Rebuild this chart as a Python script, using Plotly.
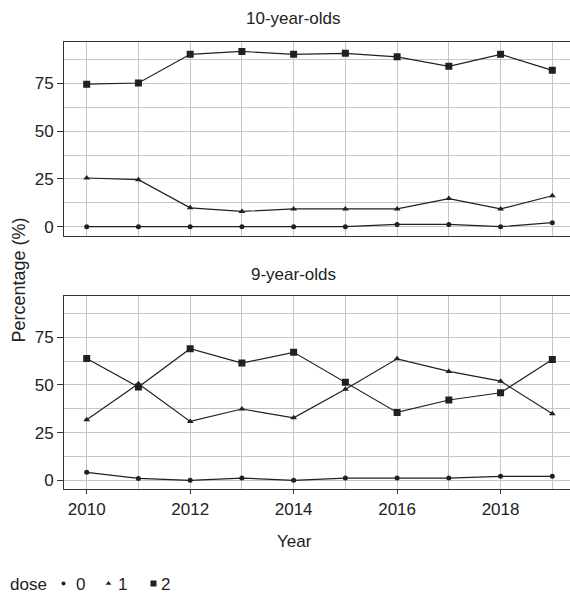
import plotly.graph_objects as go

# ---------------- data ----------------
years = [2010, 2011, 2012, 2013, 2014, 2015, 2016, 2017, 2018, 2019]
dose_levels = ["0", "1", "2"]
panel_titles = ["10-year-olds", "9-year-olds"]

ten_dose0 = [0, 0, 0, 0, 0, 0, 1.2, 1.2, 0, 2.1]
ten_dose1 = [25.5, 24.6, 9.9, 8.0, 9.3, 9.3, 9.3, 14.7, 9.3, 16.2]
ten_dose2 = [74.6, 75.2, 90.2, 91.7, 90.2, 90.7, 88.9, 83.9, 90.2, 81.8]

nine_dose0 = [4.2, 1.0, 0, 1.2, 0, 1.2, 1.2, 1.2, 2.1, 2.1]
nine_dose1 = [31.8, 50.6, 30.9, 37.4, 32.8, 47.7, 63.7, 57.1, 52.0, 34.9]
nine_dose2 = [63.9, 48.9, 69.0, 61.5, 67.1, 51.4, 35.6, 42.1, 45.9, 63.4]

y_ticks = [0, 25, 50, 75]
x_ticks = [2010, 2012, 2014, 2016, 2018]

# ---------------- style ----------------
W, H = 570, 593
INK = "#231f20"
GRID = "#c6c6c6"
FRAME = "#333333"
FONT = "Liberation Sans, Arial, sans-serif"
symbols = {"0": "circle", "1": "triangle-up", "2": "square"}
sizes = {"0": 5, "1": 6, "2": 7}
legend_ids = {"0": "legend", "1": "legend2", "2": "legend3"}
legend_x_px = {"0": 43.5, "1": 88.5, "2": 133.5}     # symbol box positions
label_x_px = {"0": 74, "1": 116, "2": 159}            # key label positions
LEG_Y = 584

def py(px):
    return 1 - px / H

def pxx(px):
    return px / W

fig = go.Figure()

panels = [
    ("x", "y", [ten_dose0, ten_dose1, ten_dose2]),
    ("x2", "y2", [nine_dose0, nine_dose1, nine_dose2]),
]
for xa, ya, series in panels:
    for d, vals in zip(dose_levels, series):
        fig.add_trace(go.Scatter(
            x=years, y=vals, mode="lines+markers", xaxis=xa, yaxis=ya,
            line=dict(color=INK, width=1.2),
            marker=dict(symbol=symbols[d], size=sizes[d], color=INK),
            showlegend=False, name=d,
        ))

# legend keys (markers only, as in the reference); labels are drawn as text below
for d in dose_levels:
    fig.add_trace(go.Scatter(
        x=[None], y=[None], mode="markers", xaxis="x2", yaxis="y2",
        marker=dict(symbol=symbols[d], size=sizes[d] - 1, color=INK),
        name="", showlegend=True, legend=legend_ids[d],
    ))

xr = [2009.567, 2019.342]
yr = [-4.7, 96.8]
xdom = [pxx(64.3), 1.0]

common_x = dict(
    range=xr, domain=xdom, tickmode="array", tickvals=x_ticks,
    showgrid=True, gridcolor=GRID, gridwidth=1.3,
    minor=dict(dtick=1, tick0=2010, showgrid=True, gridcolor=GRID, gridwidth=1.1, ticks=""),
    showline=True, linecolor=FRAME, linewidth=1.3, mirror=True,
    zeroline=False, tickfont=dict(family=FONT, size=17, color="#222"),
    ticks="outside", ticklen=4, tickcolor=FRAME,
)
common_y = dict(
    range=yr, tickmode="array", tickvals=y_ticks,
    showgrid=True, gridcolor=GRID, gridwidth=1.3,
    minor=dict(dtick=12.5, tick0=0, showgrid=True, gridcolor=GRID, gridwidth=1.1, ticks=""),
    showline=True, linecolor=FRAME, linewidth=1.3, mirror=False,
    zeroline=False, tickfont=dict(family=FONT, size=17, color="#222"),
    ticks="outside", ticklen=6, tickcolor=FRAME,
)

legend_common = dict(
    orientation="h", xanchor="left", y=py(LEG_Y), yanchor="middle",
    font=dict(family=FONT, size=17), bgcolor="rgba(0,0,0,0)", itemwidth=30,
)

annotations = [
    dict(text=panel_titles[0], x=pxx(293.7), y=py(19), xref="paper", yref="paper",
         showarrow=False, xanchor="center", yanchor="middle", font=dict(size=17)),
    dict(text=panel_titles[1], x=pxx(293.7), y=py(274), xref="paper", yref="paper",
         showarrow=False, xanchor="center", yanchor="middle", font=dict(size=17)),
    dict(text="Year", x=pxx(294.5), y=py(541), xref="paper", yref="paper",
         showarrow=False, xanchor="center", yanchor="middle", font=dict(size=17)),
    dict(text="Percentage (%)", x=pxx(18), y=py(280.5), xref="paper", yref="paper",
         showarrow=False, xanchor="center", yanchor="middle", textangle=-90,
         font=dict(size=18)),
    dict(text="dose", x=pxx(8), y=py(LEG_Y), xref="paper", yref="paper",
         showarrow=False, xanchor="left", yanchor="middle", font=dict(size=17)),
]
for d in dose_levels:
    annotations.append(dict(
        text=d, x=pxx(label_x_px[d]), y=py(LEG_Y), xref="paper", yref="paper",
        showarrow=False, xanchor="left", yanchor="middle", font=dict(size=17),
    ))

fig.update_layout(
    width=W, height=H,
    margin=dict(l=0, r=0, t=0, b=0, autoexpand=False),
    paper_bgcolor="white", plot_bgcolor="white",
    font=dict(family=FONT, size=17, color="#222"),
    xaxis=dict(common_x, anchor="y", showticklabels=False, ticks=""),
    xaxis2=dict(common_x, anchor="y2"),
    yaxis=dict(common_y, anchor="x", domain=[py(235.7), py(41.7)]),
    yaxis2=dict(common_y, anchor="x2", domain=[py(489.3), py(295.7)]),
    legend=dict(legend_common, x=pxx(legend_x_px["0"])),
    legend2=dict(legend_common, x=pxx(legend_x_px["1"])),
    legend3=dict(legend_common, x=pxx(legend_x_px["2"])),
    annotations=annotations,
)

fig.write_html(
    "out.html",
    config={"displayModeBar": False},
    post_script="document.body.style.margin='0';document.body.style.overflow='hidden';",
)
